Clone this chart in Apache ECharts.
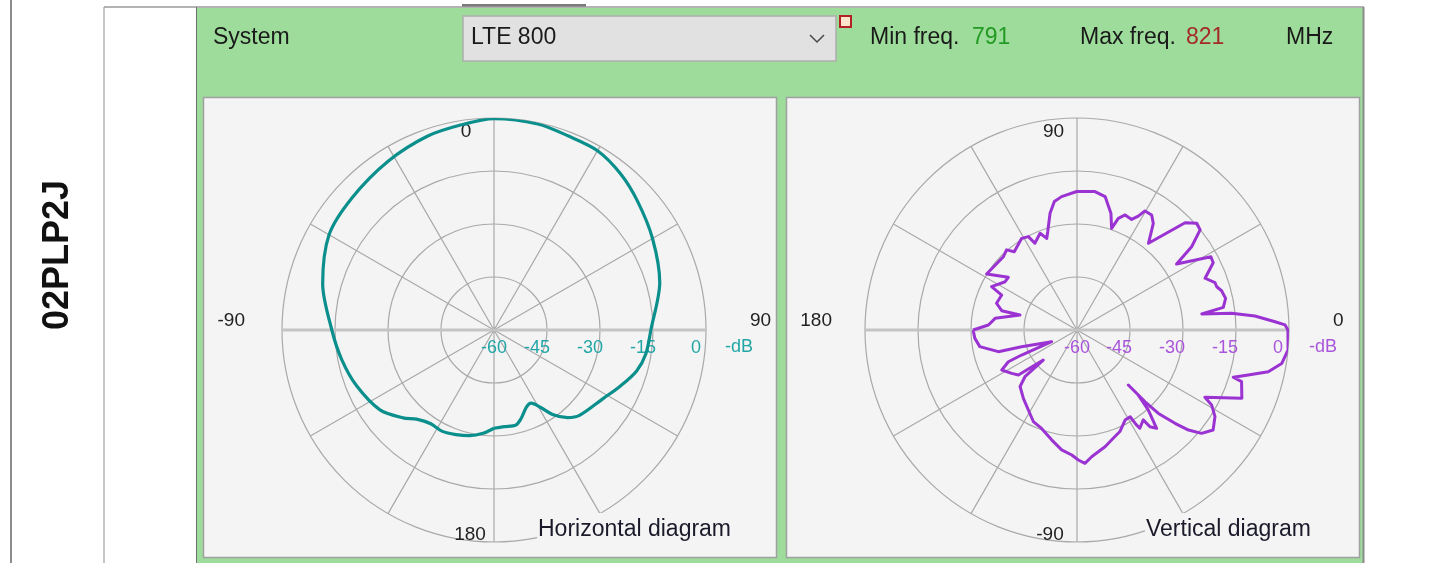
<!DOCTYPE html>
<html><head><meta charset="utf-8">
<script src="https://cdn.jsdelivr.net/npm/echarts@6/dist/echarts.min.js"></script>
<style>html,body{margin:0;padding:0;background:#fff}#chart{width:1446px;height:563px}</style>
</head><body><div id="chart"></div>
<script>
// ---------- DATA ----------
// Horizontal diagram: azimuth in degrees (0 = top, clockwise), gain in dB
const hAngles = [-180,-174,-167,-160,-153,-146,-139,-134,-125,-112,-101,-90,-75,-60,-47,-32,-19,-9,0,12,21,30,39,48,60,74,90,99,106,114,122,135,140,145,149,153,157,163,167,174,180];
const hGain   = [-32.2,-30.6,-29.3,-28.5,-27.8,-28.0,-26.6,-24.2,-20.6,-18.0,-16.1,-14.1,-9.8,-6.1,-5.1,-3.6,-2.0,-1.2,-0.2,-0.4,-1.2,-1.4,-3.1,-5.4,-8.2,-11.2,-15.6,-16.5,-18.0,-20.9,-23.5,-25.8,-27.6,-30.7,-34.5,-36.8,-36.4,-33.8,-32.4,-32.5,-32.2];

// Vertical diagram: elevation in degrees (0 = right, counter-clockwise), gain in dB
const vAngles = [-180,-175.3,-170.3,-164.6,-163.2,-155.3,-155.7,-155.2,-152.0,-146.4,-142.5,-138.3,-138.1,-135.2,-128.1,-121.3,-115.5,-109.8,-103.0,-97.3,-92.4,-89.4,-86.6,-83.4,-80.1,-76.5,-71.5,-67.1,-61.9,-58.5,-58.0,-57.4,-53.6,-53.0,-51.0,-48.3,-46.7,-47.0,-46.5,-45.7,-43.6,-41.9,-39.7,-36.3,-32.1,-29.1,-27.7,-22.5,-17.4,-16.8,-14.7,-12.3,-9.3,-5.4,0,1.4,2.4,4.5,6.2,7.3,8.8,12.0,15.2,17.2,18.9,22.0,26.3,28.7,33.5,36.0,39.1,41.7,44.8,50.5,54.4,57.0,60.3,61.7,63.7,67.3,69.7,71.2,73.8,78.1,82.6,90.1,96.6,100,103,106.6,108.3,110.9,115.9,117.5,121.1,128.7,131.3,135.1,148.2,142.5,146.1,153.1,155.1,161.6,165.6,165.3,171.9,176.8,180];
const vGain   = [-30.6,-31.0,-32.1,-36.9,-43.6,-52.1,-42.8,-38.6,-35.9,-37.8,-39.1,-47.2,-40.2,-37.3,-35.4,-33.5,-31.3,-30.4,-28.1,-25.8,-24.6,-23.2,-22.2,-23.9,-25.0,-26.0,-27.7,-28.8,-31.1,-31.2,-28.5,-27.0,-28.4,-25.7,-24.2,-29.7,-34.7,-38.7,-32.0,-27.0,-21.7,-17.6,-14.2,-12.2,-13.9,-16.4,-19.1,-9.5,-11.2,-13.8,-9.9,-4.6,-1.3,0,-0.3,-1.1,-3.9,-9.5,-16.0,-24.4,-18.1,-17.0,-17.6,-18.6,-18.7,-20.9,-17.0,-16.8,-26.2,-19.9,-15.1,-14.6,-16.9,-28.2,-22.9,-21.2,-21.2,-23.4,-25.1,-24.7,-26.3,-29.6,-25.6,-21.4,-20.5,-20.8,-22.0,-23.1,-26.1,-31.0,-32.7,-30.7,-32.7,-30.2,-29.7,-31.6,-29.8,-30.6,-29.9,-35.5,-35.5,-32.9,-36.5,-36.0,-38.0,-43.3,-36.6,-34.9,-30.6];

// Tick labels
const angleTickValues = [0, 90, 180, 270];
const angleTickLabels = ['0', '90', '180', '-90'];
const radiusTickValues = [-60, -45, -30, -15, 0];
const radiusTickLabels = ['-60', '-45', '-30', '-15', '0'];
const radiusUnit = '-dB';

// Header texts
const headerSystem = 'System';
const headerBand = 'LTE 800';
const minFreqLabel = 'Min freq.', minFreq = '791';
const maxFreqLabel = 'Max freq.', maxFreq = '821';
const freqUnit = 'MHz';
const rowLabel = '02PLP2J';
const titleH = 'Horizontal diagram';
const titleV = 'Vertical diagram';

// ---------- STYLE ----------
const FONT = '"Liberation Sans", Arial, sans-serif';
const GRID = '#a9a9a9';
const TEAL = '#0b8f8c', TEAL_LBL = '#22a6a6';
const PURP = '#9a33d2', PURP_LBL = '#a955dc';
const CH = [494, 330], CV = [1077, 330], R = 212;

function tok(extra) {
  return Object.assign({fontSize: 19, fontFamily: FONT, color: '#222', lineHeight: 20}, extra);
}
function angleLabel(slots, pads) {
  return {
    show: true, margin: -24,
    formatter: function (v) {
      const i = angleTickValues.indexOf(Math.round(v));
      if (i < 0) return '';
      return '{' + slots[i] + '|' + angleTickLabels[i] + '}';
    },
    rich: {
      top: tok({padding: [0, pads.top, 0, 0]}),
      right: tok({padding: [0, 0, 19, 68]}),
      bottom: tok({padding: [14, pads.bottom, 0, 0]}),
      left: tok({padding: [0, pads.left, 19, 0]})
    }
  };
}
function radiusLabel(color, shift) {
  const t = {fontSize: 18, fontFamily: FONT, color: color, lineHeight: 20};
  return {
    show: true, margin: -8, verticalAlign: 'top',
    formatter: function (v) {
      const i = radiusTickValues.indexOf(Math.round(v));
      if (i < 0) return '';
      return (i === 0 ? '{c|' : '{s|') + radiusTickLabels[i] + '}';
    },
    rich: {c: Object.assign({}, t), s: Object.assign({padding: [0, shift, 0, 0]}, t)}
  };
}

// ---------- DECORATION (UI frame) ----------
const G = [];
function rect(x, y, w, h, fill, stroke, lw) {
  G.push({type: 'rect', z: -10, shape: {x: x, y: y, width: w, height: h},
    style: {fill: fill || null, stroke: stroke || null, lineWidth: lw || 0}, silent: true});
}
function line(x1, y1, x2, y2, color, w) {
  G.push({type: 'line', z: -9, shape: {x1: x1, y1: y1, x2: x2, y2: y2},
    style: {stroke: color, lineWidth: w}, silent: true});
}
function text(t, x, y, fill, size, extra) {
  G.push(Object.assign({type: 'text', z: -8, x: x, y: y, silent: true,
    style: {text: t, fill: fill, fontSize: size, fontFamily: FONT, align: 'left', verticalAlign: 'middle'}}, extra || {}));
}
rect(197, 8, 1166, 555, '#9ddc9a');
line(11, 0, 11, 563, '#8c8c8c', 2);
line(104, 7, 104, 563, '#b4b4b4', 1.5);
line(104, 7, 1364, 7, '#9a9a9a', 1.5);
line(1363.5, 7, 1363.5, 563, '#8a8a8a', 2);
line(196.5, 7, 196.5, 563, '#707070', 1);
rect(462, 4, 124, 3, '#7a7a7a');
rect(203.5, 97.5, 573, 460, '#f4f4f4', '#a0a0a0', 1.5);
rect(786.5, 97.5, 573, 460, '#f4f4f4', '#a0a0a0', 1.5);
rect(463, 16, 373, 45, '#e1e1e1', '#adadad', 1.5);
G.push({type: 'polyline', z: -8, silent: true, shape: {points: [[810, 35], [817, 42], [824, 35]]},
  style: {stroke: '#4a4a4a', lineWidth: 1.5, fill: null}});
rect(840, 16, 11, 11, '#fde4cc', '#b22222', 2);
text(headerSystem, 213, 38, '#1a1a1a', 23);
text(headerBand, 471, 38, '#1a1a1a', 23);
text(minFreqLabel, 870, 38, '#1a1a1a', 23);
text(minFreq, 972, 38, '#239a23', 23);
text(maxFreqLabel, 1080, 38, '#1a1a1a', 23);
text(maxFreq, 1186, 38, '#a52a2a', 23);
text(freqUnit, 1286, 38, '#1a1a1a', 23);
G.push({type: 'text', z: -8, x: 58.5, y: 255, rotation: Math.PI / 2, silent: true,
  style: {text: rowLabel, fill: '#111', fontSize: 36, fontWeight: 'bold', fontFamily: FONT, align: 'center', verticalAlign: 'middle'}});

// ---------- CHART ----------
function polarPair(center) {
  return [{center: center, radius: R}, {center: center, radius: R}];
}
function gridRadius(idx) {
  return {polarIndex: idx, type: 'value', min: -60, max: 0, interval: 15,
    axisLine: {show: false}, axisTick: {show: false}, axisLabel: {show: false},
    splitLine: {show: true, lineStyle: {color: GRID, width: 1.2}}};
}
function labelRadius(idx, color, shift) {
  return {polarIndex: idx, type: 'value', min: -60, max: 0, interval: 15,
    axisLine: {show: false}, axisTick: {show: false}, splitLine: {show: false},
    axisLabel: radiusLabel(color, shift),
    name: radiusUnit, nameLocation: 'end', nameGap: 12,
    nameTextStyle: {color: color, fontSize: 18, fontFamily: FONT, align: 'left', verticalAlign: 'top', padding: [8, 0, 0, 0]}};
}
function thickAngle(idx) {
  return {polarIndex: idx, type: 'value', min: 0, max: 360, interval: 180, startAngle: 0,
    axisLine: {show: false}, axisTick: {show: false}, axisLabel: {show: false},
    splitLine: {show: true, lineStyle: {color: '#c4c4c4', width: 3}}};
}
const norm = a => (a % 360 + 360) % 360;

const option = {
  animation: false,
  backgroundColor: '#ffffff',
  graphic: {elements: G},
  title: [
    {text: titleH, left: 537, top: 513, padding: [5, 6, 15, 1], backgroundColor: '#f4f4f4',
      textStyle: {fontSize: 23, fontWeight: 'normal', color: '#1a1a2a', fontFamily: FONT}},
    {text: titleV, left: 1145, top: 513, padding: [5, 6, 15, 1], backgroundColor: '#f4f4f4',
      textStyle: {fontSize: 23, fontWeight: 'normal', color: '#1a1a2a', fontFamily: FONT}}
  ],
  polar: polarPair(CH).concat(polarPair(CV)),
  angleAxis: [
    {polarIndex: 0, type: 'value', min: 0, max: 360, interval: 30, startAngle: 90, clockwise: true,
      axisLine: {show: false}, axisTick: {show: false},
      splitLine: {show: true, lineStyle: {color: GRID, width: 1.2}},
      axisLabel: angleLabel(['top', 'right', 'bottom', 'left'], {top: 56, bottom: 48, left: 61})},
    thickAngle(1),
    {polarIndex: 2, type: 'value', min: 0, max: 360, interval: 30, startAngle: 0, clockwise: false,
      axisLine: {show: false}, axisTick: {show: false},
      splitLine: {show: true, lineStyle: {color: GRID, width: 1.2}},
      axisLabel: angleLabel(['right', 'top', 'left', 'bottom'], {top: 47, bottom: 54, left: 57})},
    thickAngle(3)
  ],
  radiusAxis: [
    gridRadius(0), labelRadius(1, TEAL_LBL, 20),
    gridRadius(2), labelRadius(3, PURP_LBL, 22)
  ],
  series: [
    {type: 'line', coordinateSystem: 'polar', polarIndex: 0, silent: true, clip: false,
      showSymbol: false, symbol: 'none', smooth: 0.3, z: 3,
      lineStyle: {color: TEAL, width: 3.2, join: 'round'},
      data: hAngles.map((a, i) => [hGain[i], norm(a)])},
    {type: 'line', coordinateSystem: 'polar', polarIndex: 2, silent: true, clip: false,
      showSymbol: false, symbol: 'none', smooth: false, z: 3,
      lineStyle: {color: PURP, width: 3, join: 'round'},
      data: vAngles.map((a, i) => [vGain[i], norm(a)])}
  ]
};
const chart = echarts.init(document.getElementById('chart'), null, {renderer: 'canvas'});
chart.setOption(option);
</script>
</body></html>
